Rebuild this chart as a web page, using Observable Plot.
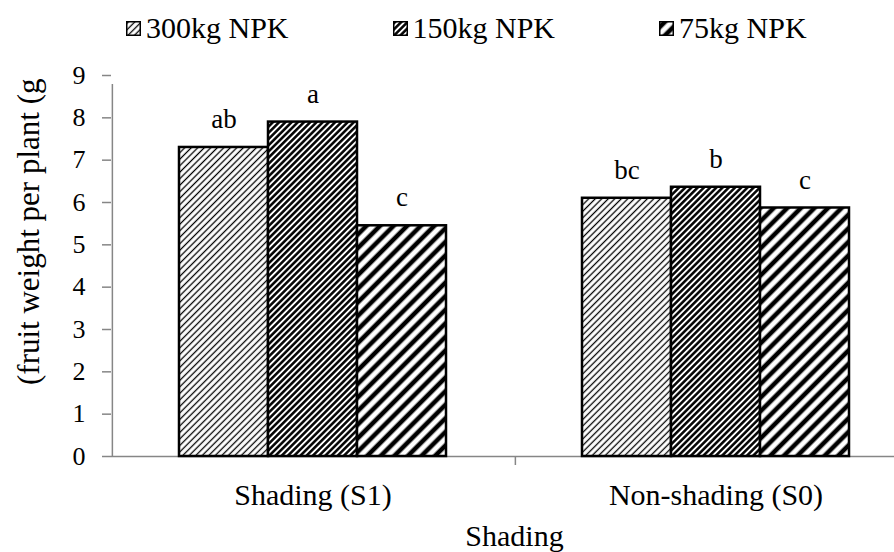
<!DOCTYPE html>
<html><head><meta charset="utf-8">
<script src="https://cdn.jsdelivr.net/npm/d3@7"></script>
<script src="https://cdn.jsdelivr.net/npm/@observablehq/plot@0.6"></script>
<style>
body{margin:0;background:#fff;font-family:"Liberation Serif","Times New Roman",serif;color:#000;overflow:hidden;}
#legend{height:56px;display:flex;align-items:center;padding-left:126px;gap:104px;font-size:30px;line-height:1;}
.item{display:flex;align-items:center;gap:5px;}
.item svg{display:block}
#chart svg{display:block}
</style></head><body>
<svg width="0" height="0" style="position:absolute">
<defs>
<pattern id="p300" patternUnits="userSpaceOnUse" width="4.6" height="4.6" patternTransform="rotate(45)"><rect width="4.6" height="4.6" fill="#fff"/><line x1="2.3" y1="0" x2="2.3" y2="4.6" stroke="#000" stroke-width="1.3"/></pattern>
<pattern id="p150" patternUnits="userSpaceOnUse" width="4.4" height="4.4" patternTransform="rotate(45)"><rect width="4.4" height="4.4" fill="#fff"/><line x1="2.2" y1="0" x2="2.2" y2="4.4" stroke="#000" stroke-width="2.5"/></pattern>
<pattern id="p75" patternUnits="userSpaceOnUse" width="9.6" height="9.6" patternTransform="rotate(45)"><rect width="9.6" height="9.6" fill="#fff"/><line x1="4.8" y1="0" x2="4.8" y2="9.6" stroke="#000" stroke-width="4.6"/></pattern>
</defs></svg>
<div id="legend"></div>
<div id="chart"></div>
<script>
const groups = ["Shading (S1)", "Non-shading (S0)"];
const series = ["300kg NPK", "150kg NPK", "75kg NPK"];
const valuesS1 = [7.3, 7.9, 5.45];
const valuesS0 = [6.1, 6.36, 5.87];
const lettersS1 = ["ab", "a", "c"];
const lettersS0 = ["bc", "b", "c"];
const yTicks = [0, 1, 2, 3, 4, 5, 6, 7, 8, 9];
const yLabel = "(fruit weight per plant (g";
const xLabel = "Shading";
const patternIds = ["p300", "p150", "p75"];

const allValues = [valuesS1, valuesS0];
const allLetters = [lettersS1, lettersS0];
const data = groups.flatMap((g, gi) => series.map((s, si) => ({
  group: g, series: s, value: allValues[gi][si], letter: allLetters[gi][si]
})));

// legend
const legend = document.getElementById("legend");
series.forEach((s, i) => {
  const item = document.createElement("div");
  item.className = "item";
  item.innerHTML = `<svg width="15" height="15"><rect x="0.75" y="0.75" width="13.5" height="13.5" fill="url(#${patternIds[i]})" stroke="#000" stroke-width="1.5"/></svg><span>${s}</span>`;
  legend.appendChild(item);
});

const gray = "#868686";
const W = 894, marginLeft = 111, marginRight = -23;
const outer = 0.742;
const facetW = (W - marginLeft - marginRight) / groups.length;
const step = facetW / (series.length + 2 * outer);
const edgeOffset = outer * step + step / 2;

const chart = Plot.plot({
  width: W,
  height: 496,
  marginLeft, marginRight,
  marginTop: 19,
  marginBottom: 96,
  style: {fontFamily: "'Liberation Serif', 'Times New Roman', serif", background: "#fff", color: "#000"},
  fx: {domain: groups, padding: 0},
  x: {domain: series, axis: null, paddingInner: 0, paddingOuter: outer},
  y: {domain: [0, 9], axis: null},
  color: {domain: series, range: patternIds.map(id => `url(#${id})`)},
  marks: [
    Plot.ruleY([0], {stroke: gray, strokeWidth: 1.5}),
    Plot.ruleX([groups[0]], {fx: d => d, x: () => series[0], dx: -edgeOffset, y1: 9, insetBottom: -9, stroke: gray, strokeWidth: 1.5}),
    Plot.ruleX([groups[1]], {fx: d => d, x: () => series[0], dx: -edgeOffset, y1: 0, insetBottom: -9, stroke: gray, strokeWidth: 1.5}),
    Plot.axisY({ticks: yTicks, tickSize: 9, tickPadding: 17, stroke: gray, strokeWidth: 1.5, fill: "#000", fontSize: 26, label: null}),
    Plot.axisFx({anchor: "bottom", tickSize: 0, tickPadding: 27, fontSize: 30, label: xLabel, labelAnchor: "center", labelOffset: 89, labelArrow: "none"}),
    Plot.barY(data, {fx: "group", x: "series", y: "value", fill: "series", stroke: "#000", strokeWidth: 2.5}),
    Plot.text(data, {fx: "group", x: "series", y: "value", text: "letter", dy: -28, fontSize: 27, fill: "#000"}),
    Plot.text([yLabel], {fx: () => groups[0], text: d => d, frameAnchor: "top-left", rotate: -90, textAnchor: "end", lineAnchor: "middle", dx: -82, dy: 3, fontSize: 31, fill: "#000"})
  ]
});
document.getElementById("chart").appendChild(chart);
</script>
</body></html>
